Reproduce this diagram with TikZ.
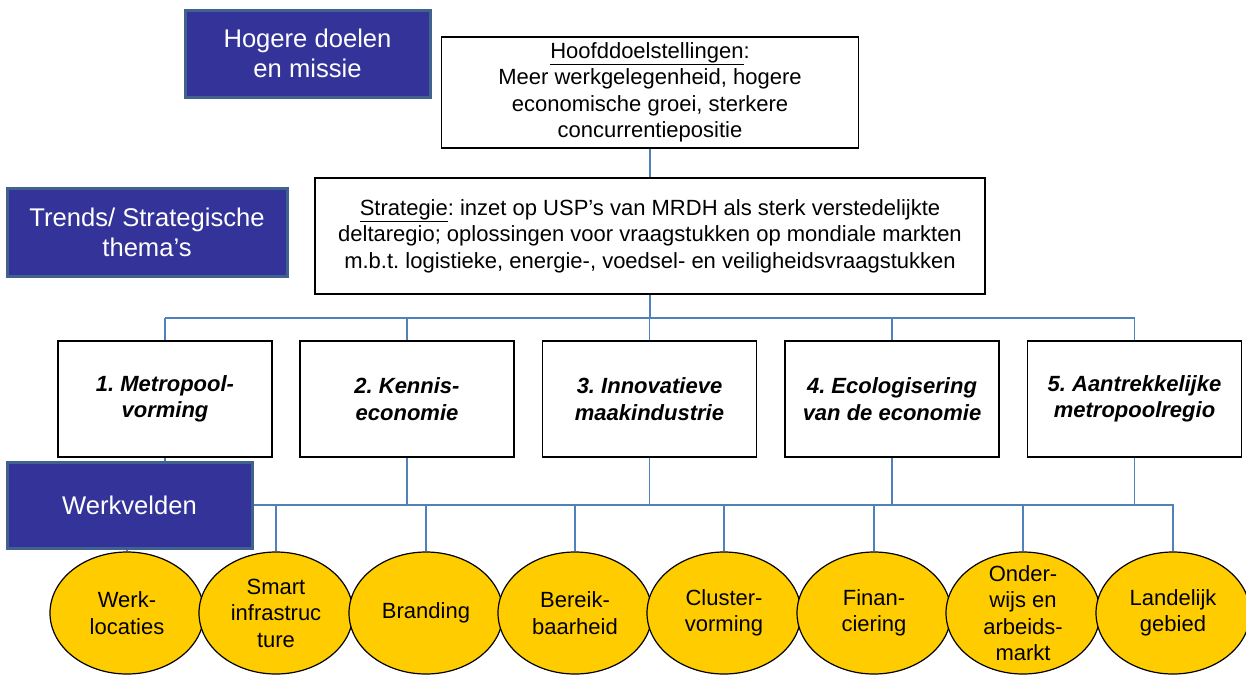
\documentclass[tikz,border=0pt]{standalone}
\usepackage{fontspec}
\setmainfont{Liberation Sans}
\frenchspacing
\definecolor{missieblue}{HTML}{333399}
\definecolor{randblue}{HTML}{41628F}
\definecolor{lijnblue}{HTML}{4F81BD}
\definecolor{veldgeel}{HTML}{FFCC00}
\tikzset{
  kopbox/.style={draw=randblue, line width=3pt, fill=missieblue, text=white, align=center,
    font=\fontsize{25.6}{30}\selectfont, inner sep=0pt},
  doelbox/.style={draw=black, line width=1.5pt, fill=white, align=center,
    font=\fontsize{22}{26.5}\selectfont, inner sep=0pt},
  themabox/.style={doelbox, minimum width=214pt, minimum height=116pt,
    font=\fontsize{22}{26.5}\selectfont\bfseries\itshape},
  veld/.style={ellipse, draw=black, line width=1.2pt, fill=veldgeel, align=center,
    minimum width=154pt, minimum height=122pt, inner xsep=-30pt, inner ysep=-40pt,
    font=\fontsize{22}{26.5}\selectfont},
  lijn/.style={draw=lijnblue, line width=1.5pt}
}
\usetikzlibrary{shapes.geometric}
\begin{document}
\begin{tikzpicture}[x=1pt, y=-1pt]
    \useasboundingbox (0,0) rectangle (1246,675);
    \node[kopbox, minimum width=245pt, minimum height=87pt] (missie) at (307.5,53.5) {Hogere doelen\\en missie};
    \node[kopbox, minimum width=280pt, minimum height=88pt] (trends) at (147,232) {Trends/ Strategische\\thema’s};
    \node[kopbox, minimum width=245pt, minimum height=86pt] (werk) at (129.5,505) {Werkvelden};
    \node[doelbox, minimum width=417pt, minimum height=111pt] (hoofd) at (650,92.5)
        {\underline{Hoofddoelstellingen}:\\Meer werkgelegenheid, hogere\\economische groei, sterkere\\concurrentiepositie};
    \node[doelbox, minimum width=670pt, minimum height=116pt] (strat) at (650,236)
        {\underline{Strategie}: inzet op USP’s van MRDH als sterk verstedelijkte\\deltaregio; oplossingen voor vraagstukken op mondiale markten\\m.b.t. logistieke, energie-, voedsel- en veiligheidsvraagstukken};
    \node[themabox] (th1) at (165,399) {1. Metropool-\\vorming};
    \node[themabox] (th2) at (407,399) {2. Kennis-\\economie};
    \node[themabox] (th3) at (649.5,399) {3. Innovatieve\\maakindustrie};
    \node[themabox] (th4) at (892,399) {4. Ecologisering\\van de economie};
    \node[themabox] (th5) at (1134.5,399) {5. Aantrekkelijke\\metropoolregio};
    \node[veld] (v1) at (127,613) {Werk-\\locaties};
    \node[veld] (v2) at (276,613) {Smart\\infrastruc\\ture};
    \node[veld] (v3) at (426,613) {Branding};
    \node[veld] (v4) at (575,613) {Bereik-\\baarheid};
    \node[veld] (v5) at (724,613) {Cluster-\\vorming};
    \node[veld] (v6) at (874,613) {Finan-\\ciering};
    \node[veld] (v7) at (1023,613) {Onder-\\wijs en\\arbeids-\\markt};
    \node[veld] (v8) at (1173,613) {Landelijk\\gebied};
    \coordinate (tl) at (165,318);
    \coordinate (tr) at (1134.5,318);
    \draw[lijn] (hoofd.south) -- (strat.north);
    \draw[lijn] (tl) -- (tr);
    \draw[lijn] (strat.south) -- (strat.south |- tl);
    \draw[lijn] (th1.north) -- (th1.north |- tl);
    \draw[lijn] (th2.north) -- (th2.north |- tl);
    \draw[lijn] (th3.north) -- (th3.north |- tl);
    \draw[lijn] (th4.north) -- (th4.north |- tl);
    \draw[lijn] (th5.north) -- (th5.north |- tl);
    \draw[lijn] (th1.south) -- (werk.north -| th1.south);
    \draw[lijn] (werk.east) -- (werk.east -| v8.north) -- (v8.north);
    \draw[lijn] (th2.south) -- (th2.south |- werk.east);
    \draw[lijn] (th3.south) -- (th3.south |- werk.east);
    \draw[lijn] (th4.south) -- (th4.south |- werk.east);
    \draw[lijn] (th5.south) -- (th5.south |- werk.east);
    \draw[lijn] (werk.south -| v1.north) -- (v1.north);
    \draw[lijn] (v2.north) -- (v2.north |- werk.east);
    \draw[lijn] (v3.north) -- (v3.north |- werk.east);
    \draw[lijn] (v4.north) -- (v4.north |- werk.east);
    \draw[lijn] (v5.north) -- (v5.north |- werk.east);
    \draw[lijn] (v6.north) -- (v6.north |- werk.east);
    \draw[lijn] (v7.north) -- (v7.north |- werk.east);
\end{tikzpicture}
\end{document}
